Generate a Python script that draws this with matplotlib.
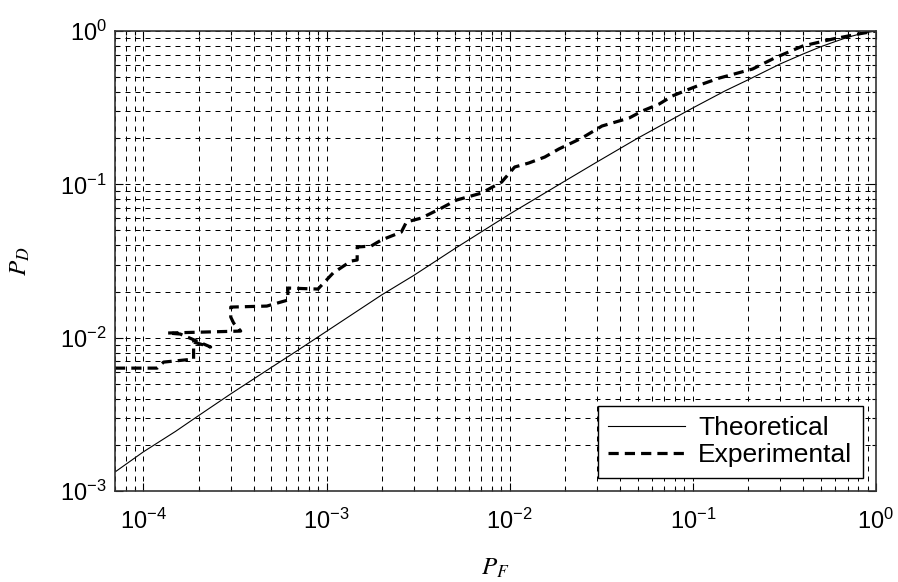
import numpy as np
import matplotlib
matplotlib.use("Agg")
import matplotlib.pyplot as plt
from matplotlib.ticker import FixedLocator, LogLocator, NullFormatter

# Theoretical ROC curve (false-alarm probability vs detection probability)
pf_theory = [7e-5, 1e-4, 1.5e-4, 2e-4, 3e-4, 5e-4, 7e-4, 1e-3, 2e-3, 3e-3, 5e-3,
             1e-2, 2e-2, 3e-2, 5e-2, 0.1, 0.15, 0.2, 0.3, 0.4, 0.5, 0.6, 0.7,
             0.8, 0.9, 1.0]
pd_theory = [1.33e-3, 1.8e-3, 2.45e-3, 3.1e-3, 4.3e-3, 6.4e-3, 8.3e-3, 1.1e-2,
             1.9e-2, 2.55e-2, 3.8e-2, 6.4e-2, 0.105, 0.14, 0.2, 0.315, 0.407,
             0.48, 0.61, 0.708, 0.79, 0.854, 0.91, 0.95, 0.98, 1.0]

# Experimental (Monte Carlo) ROC curve
pf_exp = [7e-5, 1.19e-4, 1.29e-4, 1.88e-4, 1.88e-4, 2.33e-4, 1.59e-4, 1.35e-4,
          3.40e-4, 3.11e-4, 3.00e-4, 3.00e-4, 4.72e-4, 5.63e-4, 6.15e-4,
          6.15e-4, 8.98e-4, 1.086e-3, 1.362e-3, 1.47e-3, 1.47e-3, 1.753e-3,
          1.99e-3, 2.56e-3, 2.73e-3, 3.30e-3, 4.24e-3, 5.13e-3, 7.02e-3,
          9.04e-3, 1.065e-2, 1.271e-2, 1.555e-2, 1.855e-2, 2.48e-2, 3.19e-2,
          4.49e-2, 5.29e-2, 6.55e-2, 7.72e-2, 9.57e-2, 0.1127, 0.1397, 0.2119,
          0.2797, 0.398, 0.581, 0.828, 1.0]
pd_exp = [6.33e-3, 6.33e-3, 6.93e-3, 7.25e-3, 9.36e-3, 8.69e-3, 1.056e-2,
          1.072e-2, 1.104e-2, 1.245e-2, 1.363e-2, 1.583e-2, 1.607e-2, 1.707e-2,
          1.759e-2, 2.106e-2, 2.075e-2, 2.64e-2, 3.16e-2, 3.21e-2, 3.90e-2,
          3.96e-2, 4.33e-2, 4.88e-2, 5.68e-2, 6.03e-2, 7.00e-2, 7.90e-2,
          8.77e-2, 0.1035, 0.1297, 0.1377, 0.1507, 0.170, 0.2005, 0.240,
          0.2707, 0.3007, 0.334, 0.3767, 0.4183, 0.451, 0.4936, 0.565, 0.667,
          0.798, 0.887, 0.963, 1.0]

x_ticks = [1e-4, 1e-3, 1e-2, 1e-1, 1e0]
x_tick_labels = [r'$10^{-4}$', r'$10^{-3}$', r'$10^{-2}$', r'$10^{-1}$', r'$10^{0}$']
y_ticks = [1e-3, 1e-2, 1e-1, 1e0]
y_tick_labels = [r'$10^{-3}$', r'$10^{-2}$', r'$10^{-1}$', r'$10^{0}$']
series_labels = ['Theoretical', 'Experimental']

plt.rcParams['font.family'] = ['Liberation Sans', 'DejaVu Sans']
plt.rcParams['mathtext.fontset'] = 'custom'
plt.rcParams['mathtext.rm'] = 'Liberation Sans'
plt.rcParams['mathtext.it'] = 'Liberation Sans:italic'
plt.rcParams['mathtext.bf'] = 'Liberation Sans:bold'

fig = plt.figure(figsize=(8.98, 5.82), dpi=100)
ax = fig.add_axes([115 / 898, 91 / 582, 761 / 898, 460 / 582])
ax.set_xscale('log')
ax.set_yscale('log')

ax.plot(pf_theory, pd_theory, color='black', lw=0.8, label=series_labels[0])
ax.plot(pf_exp, pd_exp, color='black', lw=2.3, ls=(0, (3.2, 1.9)),
        label=series_labels[1])

ax.set_xlim(7e-5, 1)
ax.set_ylim(1e-3, 1)

ax.xaxis.set_major_locator(FixedLocator(x_ticks))
ax.xaxis.set_ticklabels(x_tick_labels)
ax.yaxis.set_major_locator(FixedLocator(y_ticks))
ax.yaxis.set_ticklabels(y_tick_labels)
for axis in (ax.xaxis, ax.yaxis):
    axis.set_minor_locator(LogLocator(base=10, subs=np.arange(2, 10), numticks=30))
    axis.set_minor_formatter(NullFormatter())

ax.tick_params(which='both', direction='in', top=True, right=True,
               colors='black', width=0.8)
ax.tick_params(which='major', length=6, labelsize=17)
ax.tick_params(which='minor', length=3)
ax.tick_params(axis='x', which='major', pad=13)
ax.tick_params(axis='y', which='major', pad=6)

ax.grid(which='both', color='black', lw=0.72, ls=(0, (5, 5)))
ax.set_axisbelow(True)
for sp in ax.spines.values():
    sp.set_linewidth(1.2)
    sp.set_color('#333333')

ax.set_xlabel(r'$P_F$', fontsize=18, math_fontfamily='stix')
ax.set_ylabel(r'$P_D$', fontsize=18, math_fontfamily='stix')
ax.xaxis.set_label_coords((495 - 115) / 761, (491 - 556) / 460)
ax.yaxis.set_label_coords((32 - 115) / 761, 0.5)

leg = ax.legend(loc='lower right', fontsize=19, frameon=True, fancybox=False,
                edgecolor='black', framealpha=1, handlelength=2.9,
                handletextpad=0.5, borderpad=0.4, labelspacing=0.12,
                borderaxespad=0.5)
leg.get_frame().set_linewidth(1.0)

fig.savefig('out.png', dpi=100)
